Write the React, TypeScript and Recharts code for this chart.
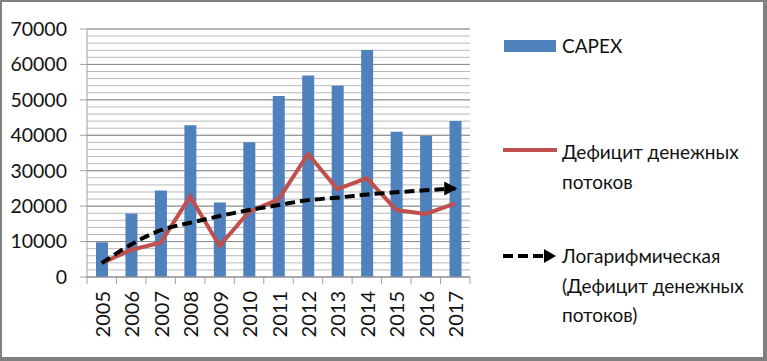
import React from 'react';
import { ComposedChart, Bar, Line, XAxis, YAxis, CartesianGrid } from 'recharts';

const years = ['2005', '2006', '2007', '2008', '2009', '2010', '2011', '2012', '2013', '2014', '2015', '2016', '2017'];
const capex = [9800, 17900, 24400, 42800, 21000, 38000, 51100, 56900, 54000, 64100, 41000, 39900, 44000];
const deficit = [3900, 7700, 9700, 22700, 8800, 18400, 21900, 34700, 24800, 27900, 18900, 17800, 20800];
const trend = [3900, 9200, 13200, 15300, 17200, 18900, 20300, 21700, 22400, 23300, 23900, 24500, 25000];
const yTicks = [0, 10000, 20000, 30000, 40000, 50000, 60000, 70000];
const yMax = 70000;
const gridTicks = Array.from({ length: 36 }, (_, i) => i * 2000);

const seriesNames = ['CAPEX', 'Дефицит денежных потоков', 'Логарифмическая (Дефицит денежных потоков)'];

const data = years.map((y, i) => ({ year: y, capex: capex[i], deficit: deficit[i], trend: trend[i] }));

const FONT = 'Lato, "Open Sans", sans-serif';
const AXIS = '#a0a0a0';

const XTick = (props: any) => {
  const { x, y, payload, index, band } = props;
  const b = band as number;
  return (
    <g>
      <line x1={x - b / 2} x2={x - b / 2} y1={y - 14} y2={y - 7} stroke={AXIS} />
      {index === years.length - 1 && (
        <line x1={x + b / 2} x2={x + b / 2} y1={y - 14} y2={y - 7} stroke={AXIS} />
      )}
      <text
        x={x}
        y={y}
        transform={`rotate(-90 ${x} ${y})`}
        textAnchor="end"
        dominantBaseline="central"
        fontSize={20}
        fontFamily={FONT}
        fill="#111"
      >
        {payload.value}
      </text>
    </g>
  );
};

const LegendBox = () => {
  const txt: React.CSSProperties = {
    position: 'absolute',
    left: 562,
    fontSize: 19,
    lineHeight: '29.5px',
    fontFamily: FONT,
    color: '#111',
    whiteSpace: 'nowrap',
  };
  return (
    <div style={{ position: 'absolute', left: 0, top: 0, width: 767, height: 361, pointerEvents: 'none' }}>
      <div style={{ position: 'absolute', left: 504, top: 40, width: 52, height: 12, background: '#4f81bd' }} />
      <div style={{ ...txt, top: 31 }}>{seriesNames[0]}</div>
      <svg style={{ position: 'absolute', left: 500, top: 140, overflow: 'visible' }} width={60} height={20}>
        <line x1={3} x2={57} y1={10} y2={10} stroke="#c0504d" strokeWidth={4} />
      </svg>
      <div style={{ ...txt, top: 137 }}>
        Дефицит денежных
        <br />
        потоков
      </div>
      <svg style={{ position: 'absolute', left: 500, top: 246, overflow: 'visible' }} width={60} height={20}>
        <line x1={3} x2={46} y1={10} y2={10} stroke="#000" strokeWidth={4} strokeDasharray="10 5" />
        <polygon points="56,10 44,3 44,17" fill="#000" />
      </svg>
      <div style={{ ...txt, top: 241 }}>
        Логарифмическая
        <br />
        (Дефицит денежных
        <br />
        потоков)
      </div>
    </div>
  );
};

export default function App() {
  const plotLeft = 87;
  const plotRight = 470;
  const band = (plotRight - plotLeft) / years.length;
  return (
    <div style={{ position: 'absolute', left: 0, top: 0, width: 767, height: 361, background: '#fff' }}>
      <ComposedChart
        width={767}
        height={361}
        data={data}
        margin={{ top: 29, right: 767 - plotRight, bottom: 24, left: 0 }}
      >
        <CartesianGrid
          yAxisId="left"
          vertical={false}
          stroke="#b8b8b8"
          horizontalCoordinatesGenerator={({ offset }: any) =>
            gridTicks.map((v) => offset.top + offset.height * (1 - v / yMax))
          }
        />
        <CartesianGrid yAxisId="left" vertical={false} stroke="#8c8c8c" />
        <XAxis
          dataKey="year"
          height={60}
          tickSize={0}
          tickMargin={14}
          interval={0}
          stroke={AXIS}
          tick={<XTick band={band} />}
        />
        <YAxis
          yAxisId="left"
          width={87}
          domain={[0, yMax]}
          ticks={yTicks}
          tickSize={7}
          tickMargin={13}
          stroke={AXIS}
          tick={{ fontSize: 19.5, fontFamily: FONT, fill: '#111' }}
        />
        <YAxis yAxisId="r" orientation="right" width={0} domain={[0, yMax]} tick={false} tickLine={false} stroke={AXIS} />
        <Bar yAxisId="left" dataKey="capex" name={seriesNames[0]} fill="#4f81bd" barSize={12} isAnimationActive={false} />
        <Line
          yAxisId="left"
          dataKey="deficit"
          name={seriesNames[1]}
          stroke="#c0504d"
          strokeWidth={4}
          dot={false}
          type="linear"
          isAnimationActive={false}
        />
        <Line
          yAxisId="left"
          dataKey="trend"
          name={seriesNames[2]}
          stroke="#000"
          strokeWidth={4}
          strokeDasharray="10 5"
          type="monotone"
          isAnimationActive={false}
          dot={(p: any) =>
            p.index === trend.length - 1 ? (
              <polygon
                key="arrow"
                points={`${p.cx + 2},${p.cy} ${p.cx - 11},${p.cy - 7} ${p.cx - 11},${p.cy + 7}`}
                fill="#000"
              />
            ) : (
              <g key={`d${p.index}`} />
            )
          }
        />
      </ComposedChart>
      <LegendBox />
      <div
        style={{
          position: 'absolute',
          left: 0,
          top: 0,
          width: 767,
          height: 361,
          boxSizing: 'border-box',
          borderTop: '2px solid #808080',
          borderLeft: '2px solid #808080',
          borderRight: '4px solid #808080',
          borderBottom: '4px solid #808080',
          pointerEvents: 'none',
        }}
      />
    </div>
  );
}
